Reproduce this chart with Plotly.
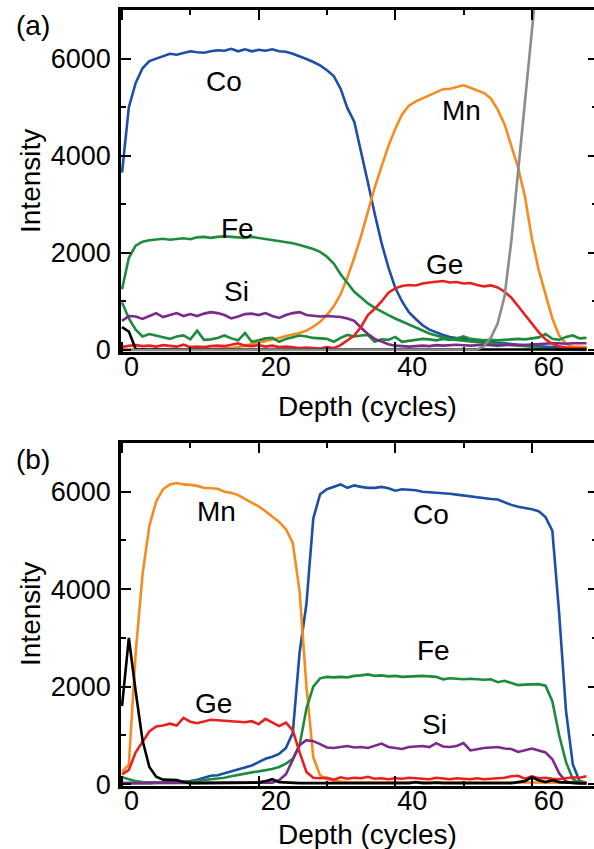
import plotly.graph_objects as go

# ---------------- data ----------------
depth = list(range(69))

# panel (a)
co_a = [3650, 5000, 5500, 5800, 5950, 6000, 6050, 6100, 6080, 6120, 6150, 6130, 6120, 6150, 6170, 6160, 6200, 6150,
        6190, 6150, 6180, 6160, 6190, 6150, 6140, 6100, 6050, 5990, 5930, 5860, 5760, 5640, 5380, 4980, 4700, 4100,
        3450, 2800, 2200, 1700, 1280, 1000, 780, 640, 510, 420, 360, 310, 270, 245, 225, 205, 190, 175, 160, 150,
        140, 125, 110, 100, 85, 75, 65, 55, 45, 40, 35, 30, 25]
mn_a = [10, 10, 5, 5, 5, 5, 5, 10, 10, 10, 15, 15, 20, 20, 25, 30, 40, 60, 90, 120, 150, 180, 210, 250, 290, 320,
        350, 400, 480, 580, 720, 900, 1150, 1500, 1900, 2350, 2850, 3350, 3780, 4200, 4550, 4850, 5030, 5120, 5180,
        5240, 5300, 5370, 5380, 5420, 5450, 5400, 5350, 5290, 5180, 4950, 4650, 4200, 3750, 3150, 2300, 1650, 1150,
        650, 300, 130, 70, 60, 60]
fe_a = [1250, 1900, 2150, 2230, 2260, 2270, 2290, 2270, 2290, 2300, 2280, 2320, 2330, 2310, 2330, 2340, 2330, 2320,
        2310, 2330, 2310, 2290, 2260, 2240, 2220, 2200, 2160, 2120, 2080, 2020, 1920, 1780, 1560, 1380, 1200, 1080,
        960, 870, 790, 720, 650, 590, 520, 460, 400, 340, 300, 260, 230, 210, 190, 170, 160, 150, 140, 130, 120, 110,
        100, 90, 70, 40, 20, 10, 5, 0, 0, 0, 0]
fe2_a = [980, 650, 420, 280, 330, 300, 260, 230, 280, 300, 220, 400, 210, 220, 250, 300, 240, 200, 350, 170, 200,
         240, 250, 170, 230, 260, 300, 280, 250, 240, 230, 170, 250, 310, 280, 300, 310, 170, 220, 210, 270, 170, 190,
         210, 230, 220, 200, 230, 210, 240, 280, 230, 220, 200, 210, 200, 210, 220, 230, 220, 240, 260, 330, 230, 210,
         270, 300, 240, 250]
si_a = [600, 700, 690, 640, 700, 760, 680, 720, 760, 700, 740, 700, 750, 780, 760, 720, 650, 690, 740, 750, 720, 760,
        700, 660, 720, 760, 780, 720, 700, 690, 700, 690, 680, 650, 600, 460, 330, 230, 170, 120, 90, 80, 70, 80, 90,
        80, 100, 90, 100, 110, 100, 90, 100, 110, 100, 90, 100, 110, 100, 110, 120, 130, 140, 140, 140, 130, 140, 140,
        140]
ge_a = [60, 90, 100, 80, 90, 70, 100, 90, 70, 110, 60, 70, 60, 80, 90, 80, 110, 140, 90, 80, 100, 70, 90, 60, 70, 60,
        40, 50, 40, 30, 60, 40, 100, 200, 300, 480, 720, 850, 1000, 1180, 1270, 1320, 1340, 1330, 1370, 1390, 1410,
        1420, 1390, 1400, 1370, 1380, 1340, 1310, 1330, 1290, 1200, 1080, 900, 720, 530, 370, 220, 130, 80, 50, 40,
        30, 30]
gray_a = [0, 0, 0, 0, 0, 0, 0, 0, 0, 0, 0, 0, 0, 0, 0, 0, 0, 0, 0, 0, 0, 0, 0, 0, 0, 0, 0, 0, 0, 0, 0, 0, 0, 0, 0, 0,
          0, 0, 0, 0, 0, 0, 0, 0, 0, 0, 0, 0, 0, 0, 0, 0, 10, 80, 250, 550, 1100, 2250, 3700, 5150, 6550, 8000]
black_a = [470, 380, 20, 10, 10, 15, 10, 10, 5, 10, 10, 15, 10, 10, 10, 5, 10, 10, 10, 15, 10, 10, 10, 10, 10, 10,
           10, 15, 10, 10, 10, 10, 10, 10, 10, 10, 10, 10, 10, 10, 10, 10, 10, 10, 10, 10, 10, 10, 10, 10, 10, 10, 10,
           10, 10, 10, 10, 10, 10, 10, 10, 10, 10, 10, 10, 10, 10, 10, 10]

# panel (b)
mn_b = [250, 400, 2700, 4300, 5300, 5800, 6050, 6150, 6180, 6150, 6140, 6120, 6080, 6070, 6060, 6000, 5980, 5930,
        5850, 5780, 5700, 5600, 5480, 5380, 5230, 4950, 3950, 2000, 550, 180, 100, 70, 50, 40, 40, 30, 30, 30, 30,
        30, 30, 30, 30, 30, 30, 30, 30, 30, 30, 30, 30, 30, 30, 30, 30, 30, 30, 30, 30, 30, 30, 30, 30, 30, 30, 30,
        30, 30, 30]
co_b = [20, 20, 10, 10, 20, 30, 30, 40, 40, 50, 60, 90, 130, 170, 180, 220, 250, 290, 330, 380, 450, 520, 560, 620,
        740, 1050, 2700, 3700, 5450, 5950, 6050, 6100, 6150, 6080, 6130, 6100, 6080, 6080, 6100, 6070, 6020, 6050,
        6040, 6030, 6000, 5990, 5980, 5980, 5960, 5940, 5920, 5900, 5880, 5870, 5850, 5840, 5780, 5730, 5690, 5670,
        5640, 5600, 5480, 5200, 3500, 1500, 400, 60, 30]
fe_b = [140, 100, 60, 40, 30, 30, 30, 30, 30, 40, 50, 60, 80, 100, 110, 130, 160, 190, 220, 240, 260, 280, 310, 350,
        420, 520, 800, 1550, 2000, 2170, 2200, 2190, 2200, 2190, 2220, 2230, 2250, 2220, 2230, 2210, 2220, 2200, 2210,
        2210, 2220, 2210, 2200, 2150, 2170, 2160, 2150, 2160, 2150, 2140, 2150, 2090, 2120, 2070, 2030, 2040, 2040,
        2050, 2020, 1700, 1000, 450, 100, 20, 10]
si_b = [20, 20, 20, 20, 20, 20, 20, 20, 20, 20, 20, 20, 20, 20, 20, 20, 20, 20, 20, 20, 20, 20, 30, 80, 200, 500,
        800, 900, 880, 820, 750, 740, 760, 780, 750, 760, 740, 790, 830, 760, 740, 720, 760, 770, 780, 760, 840, 770,
        760, 780, 840, 690, 720, 740, 750, 760, 730, 720, 660, 700, 730, 690, 650, 510, 220, 50, 20, 10, 10]
ge_b = [200, 290, 650, 870, 1080, 1180, 1200, 1240, 1200, 1360, 1280, 1250, 1280, 1320, 1310, 1300, 1290, 1280, 1270,
        1290, 1230, 1340, 1260, 1190, 1260, 1100, 650, 250, 130, 120, 130, 90, 140, 110, 130, 120, 150, 110, 120, 100,
        120, 110, 130, 120, 120, 100, 130, 110, 100, 120, 110, 100, 120, 100, 110, 120, 130, 160, 170, 110, 160, 120,
        130, 110, 100, 120, 140, 130, 160]
black_b = [1600, 3000, 1900, 900, 350, 150, 90, 90, 80, 40, 20, 20, 20, 20, 20, 20, 20, 20, 20, 20, 30, 60, 100, 40,
           30, 20, 20, 20, 20, 20, 30, 20, 20, 20, 30, 20, 20, 20, 20, 20, 30, 20, 20, 40, 20, 20, 30, 20, 20, 20, 20,
           30, 20, 20, 20, 30, 20, 20, 40, 60, 140, 80, 40, 80, 40, 30, 20, 20, 20]

x_ticks = [0, 20, 40, 60]
y_ticks = [0, 2000, 4000, 6000]

labels_a = [("Co", 14.9, 5527), ("Mn", 49.7, 4922), ("Fe", 16.9, 2502), ("Si", 16.7, 1210), ("Ge", 47.2, 1754)]
labels_b = [("Mn", 13.9, 5591), ("Co", 45.2, 5530), ("Fe", 45.6, 2744), ("Si", 45.8, 1229), ("Ge", 13.4, 1659)]

# ---------------- style ----------------
FONT = "Liberation Sans, Arial, sans-serif"
C_CO = "#1d4fa6"
C_MN = "#f68b1f"
C_FE = "#1e8a3c"
C_SI = "#7a2a8a"
C_GE = "#e8201f"
C_GRAY = "#8c8c8c"
C_BLACK = "#000000"
LW = 2.6

fig = go.Figure()


def add(y, color, xa, ya):
    fig.add_trace(go.Scatter(x=depth[:len(y)], y=y, mode="lines", line=dict(color=color, width=LW),
                             xaxis=xa, yaxis=ya, showlegend=False, hoverinfo="skip"))


# panel a
for ser, col in [(co_a, C_CO), (mn_a, C_MN), (fe_a, C_FE), (fe2_a, C_FE), (si_a, C_SI), (ge_a, C_GE),
                 (black_a, C_BLACK), (gray_a, C_GRAY)]:
    add(ser, col, "x", "y")
# panel b
for ser, col in [(co_b, C_CO), (mn_b, C_MN), (fe_b, C_FE), (si_b, C_SI), (ge_b, C_GE), (black_b, C_BLACK)]:
    add(ser, col, "x2", "y2")

# dummy traces for overlay (mirror) axes
for xa, ya in [("x3", "y3"), ("x4", "y4")]:
    fig.add_trace(go.Scatter(x=[None], y=[None], xaxis=xa, yaxis=ya, showlegend=False, hoverinfo="skip"))

XR = [-0.15, 69.1]
YR = [-40, 7000]
tickfont = dict(family=FONT, size=27, color="black")
minor_x = dict(dtick=10, tick0=0, ticks="inside", ticklen=5, tickwidth=1.5, tickcolor="black")
minor_y = dict(dtick=1000, tick0=0, ticks="inside", ticklen=5, tickwidth=1.5, tickcolor="black")

base_x = dict(range=XR, tickmode="array", tickvals=x_ticks, ticktext=[str(v) for v in x_ticks],
              ticks="inside", ticklen=10, tickwidth=1.5, tickcolor="black", showline=True, linewidth=2.5,
              linecolor="black", showgrid=False, zeroline=False, tickfont=tickfont, minor=minor_x,
              ticklabelposition="outside right", ticklabelstandoff=-11, automargin=False)
base_y = dict(range=YR, tickmode="array", tickvals=y_ticks, ticktext=[str(v) for v in y_ticks],
              ticks="inside", ticklen=10, tickwidth=1.5, tickcolor="black", showline=True, linewidth=2.5,
              linecolor="black", showgrid=False, zeroline=False, tickfont=tickfont, minor=minor_y,
              ticklabelstandoff=2, automargin=False)
top_x = dict(range=XR, tickmode="array", tickvals=x_ticks, side="top", ticks="inside", ticklen=10, tickwidth=1.5,
             tickcolor="black", showline=True, linewidth=2.5, linecolor="black", showgrid=False, zeroline=False,
             showticklabels=False, minor=minor_x, automargin=False)
right_y = dict(range=YR, tickmode="array", tickvals=y_ticks, side="right", ticks="inside", ticklen=6,
               tickwidth=1.5, tickcolor="black", showline=False, showgrid=False, zeroline=False,
               showticklabels=False, automargin=False,
               minor=dict(dtick=1000, tick0=0, ticks="inside", ticklen=2, tickwidth=1.5, tickcolor="black"))

DOM_A = [0.5593, 1.0]
DOM_B = [0.0, 0.442]

fig.update_layout(
    width=594, height=849,
    margin=dict(l=121, r=0, t=10, b=63, autoexpand=False),
    paper_bgcolor="white", plot_bgcolor="white",
    font=dict(family=FONT, color="black"),
    xaxis=dict(base_x, anchor="y"),
    yaxis=dict(base_y, domain=DOM_A, anchor="x"),
    xaxis2=dict(base_x, anchor="y2"),
    yaxis2=dict(base_y, domain=DOM_B, anchor="x2"),
    xaxis3=dict(top_x, overlaying="x", anchor="y"),
    yaxis3=dict(right_y, overlaying="y", anchor="x"),
    xaxis4=dict(top_x, overlaying="x2", anchor="y2"),
    yaxis4=dict(right_y, overlaying="y2", anchor="x2"),
)

ann = []
for txt, xv, yv in labels_a:
    ann.append(dict(text=txt, x=xv, y=yv, xref="x", yref="y", showarrow=False,
                    font=dict(family=FONT, size=28, color="black")))
for txt, xv, yv in labels_b:
    ann.append(dict(text=txt, x=xv, y=yv, xref="x2", yref="y2", showarrow=False,
                    font=dict(family=FONT, size=28, color="black")))

W_PLOT = 594 - 121
H_PLOT = 849 - 10 - 63


def px_to_paper(px, py):
    return (px - 121) / W_PLOT, (849 - 63 - py) / H_PLOT


for txt, px, py, ang in [("Depth (cycles)", 367, 407, 0), ("Depth (cycles)", 367, 834, 0),
                         ("Intensity", 30, 181, -90), ("Intensity", 30, 614, -90),
                         ("(a)", 33, 25, 0), ("(b)", 33, 460, 0)]:
    xp, yp = px_to_paper(px, py)
    ann.append(dict(text=txt, x=xp, y=yp, xref="paper", yref="paper", showarrow=False, textangle=ang,
                    xanchor="center", yanchor="middle", font=dict(family=FONT, size=28, color="black")))

fig.update_layout(annotations=ann)
fig.write_html("out.html", config={"displayModeBar": False},
               post_script="document.body.style.margin='0';document.body.style.overflow='hidden';")
